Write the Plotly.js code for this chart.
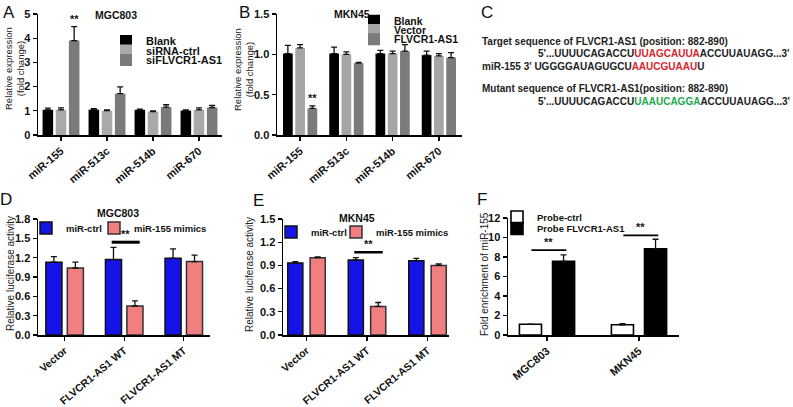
<!DOCTYPE html>
<html><head><meta charset="utf-8">
<script src="https://cdn.plot.ly/plotly-3.0.1.min.js"></script>
<style>html,body{margin:0;padding:0;background:#fff}#chart{width:793px;height:407px}</style>
</head><body><div id="chart"></div>
<script>
// ---------- Panel A (MGC803, qRT-PCR) ----------
const mirCats = ['miR-155', 'miR-513c', 'miR-514b', 'miR-670'];
const aBlank = [1.04, 1.05, 1.04, 1.01];
const aBlankErr = [0.07, 0.04, 0.03, 0.03];
const aSiCtrl = [1.04, 1.01, 0.97, 1.04];
const aSiCtrlErr = [0.08, 0.03, 0.03, 0.08];
const aSiFL = [3.90, 1.71, 1.15, 1.13];
const aSiFLErr = [0.58, 0.28, 0.10, 0.09];
const aNames = ['Blank', 'siRNA-ctrl', 'siFLVCR1-AS1'];

// ---------- Panel B (MKN45, qRT-PCR) ----------
const bBlank = [1.01, 1.01, 1.01, 0.99];
const bBlankErr = [0.10, 0.08, 0.04, 0.05];
const bVector = [1.08, 1.00, 1.01, 0.98];
const bVectorErr = [0.04, 0.03, 0.03, 0.03];
const bFL = [0.33, 0.89, 1.04, 0.96];
const bFLErr = [0.03, 0.01, 0.08, 0.06];
const bNames = ['Blank', 'Vector', 'FLVCR1-AS1'];

// ---------- Panels D / E (luciferase) ----------
const lucCats = ['Vector', 'FLVCR1-AS1 WT', 'FLVCR1-AS1 MT'];
const lucNames = ['miR-ctrl', 'miR-155 mimics'];
const dCtrl = [1.13, 1.17, 1.19];
const dCtrlErr = [0.085, 0.19, 0.145];
const dMimic = [1.04, 0.45, 1.14];
const dMimicErr = [0.09, 0.08, 0.10];
const eCtrl = [0.93, 0.97, 0.96];
const eCtrlErr = [0.02, 0.03, 0.03];
const eMimic = [1.00, 0.37, 0.90];
const eMimicErr = [0.01, 0.05, 0.02];

// ---------- Panel F (RNA pull-down) ----------
const fCats = ['MGC803', 'MKN45'];
const fNames = ['Probe-ctrl', 'Probe FLVCR1-AS1'];
const fCtrl = [1.10, 1.05];
const fCtrlErr = [0.02, 0.12];
const fProbe = [7.55, 8.85];
const fProbeErr = [0.67, 0.97];

// ---------- layout helpers ----------
const W = 793, H = 407;
const FF = 'Liberation Sans, Arial, Helvetica, sans-serif';
const px = v => v / W;
const py = v => 1 - v / H;

function bar(x, y, err, name, color, offset, width, axN, legId, lineColor, lineW) {
  return {
    type: 'bar', x: x, y: y, name: name,
    xaxis: 'x' + (axN === 1 ? '' : axN), yaxis: 'y' + (axN === 1 ? '' : axN),
    offset: offset, width: width,
    marker: {color: color, line: {color: lineColor || color, width: lineW || 0}},
    error_y: {type: 'data', symmetric: false, array: err, arrayminus: err.map(() => 0),
              color: '#111', thickness: 1.3, width: 3},
    legend: legId, showlegend: true, hoverinfo: 'skip'
  };
}

function xax(d0, d1, range, anchor, fs) {
  return {domain: [px(d0), px(d1)], range: range, anchor: anchor, type: 'category',
    showline: true, linecolor: '#000', linewidth: 1.5, ticks: 'outside', ticklen: 4,
    tickwidth: 1.3, tickcolor: '#000', tickangle: -40, showgrid: false, zeroline: false,
    tickfont: {family: FF, size: fs, weight: 'bold', color: '#111'}, fixedrange: true};
}
function yax(top, bottom, range, dtick, fmt, anchor) {
  return {domain: [py(bottom), py(top)], range: range, anchor: anchor, dtick: dtick,
    tick0: 0, tickformat: fmt, showline: true, linecolor: '#000', linewidth: 1.5,
    ticks: 'outside', ticklen: 4, tickwidth: 1.3, tickcolor: '#000', showgrid: false,
    zeroline: false, fixedrange: true,
    tickfont: {family: FF, size: 11, weight: 'bold', color: '#111'}};
}
function leg(xText, yc, fs) {
  return {x: px(xText - 40), y: py(yc), xanchor: 'left', yanchor: 'middle',
    bgcolor: 'rgba(0,0,0,0)', borderwidth: 0, itemclick: false, itemdoubleclick: false,
    font: {family: FF, size: fs, weight: 'bold', color: '#111'}};
}

// bar geometry (axis units)
const aW = 0.23, aOff = [-0.401, -0.115, 0.171];
const bW = 0.21, bOff = [-0.37, -0.105, 0.16];
const dW = 0.27, dOff = [-0.315, 0.045];
const eW = 0.25, eOff = [-0.31, 0.06];
const fW = 0.24, fOff = [-0.30, 0.06];

const data = [
  bar(mirCats, aBlank, aBlankErr, aNames[0], '#000000', aOff[0], aW, 1, 'legend'),
  bar(mirCats, aSiCtrl, aSiCtrlErr, aNames[1], '#a9a9a9', aOff[1], aW, 1, 'legend2'),
  bar(mirCats, aSiFL, aSiFLErr, aNames[2], '#7a7a7a', aOff[2], aW, 1, 'legend3'),
  bar(mirCats, bBlank, bBlankErr, bNames[0], '#000000', bOff[0], bW, 2, 'legend4'),
  bar(mirCats, bVector, bVectorErr, bNames[1], '#a6a6a6', bOff[1], bW, 2, 'legend5'),
  bar(mirCats, bFL, bFLErr, bNames[2], '#7b7b7b', bOff[2], bW, 2, 'legend6'),
  bar(lucCats, dCtrl, dCtrlErr, lucNames[0], '#1414e6', dOff[0], dW, 3, 'legend7', '#111', 1.5),
  bar(lucCats, dMimic, dMimicErr, lucNames[1], '#f27f7f', dOff[1], dW, 3, 'legend8', '#333', 1.5),
  bar(lucCats, eCtrl, eCtrlErr, lucNames[0], '#1414e6', eOff[0], eW, 4, 'legend9', '#111', 1.5),
  bar(lucCats, eMimic, eMimicErr, lucNames[1], '#f27f7f', eOff[1], eW, 4, 'legend10', '#333', 1.5),
  bar(fCats, fCtrl, fCtrlErr, fNames[0], '#ffffff', fOff[0], fW, 5, 'legend11', '#000', 1.6),
  bar(fCats, fProbe, fProbeErr, fNames[1], '#000000', fOff[1], fW, 5, 'legend12', '#000', 1.6)
];

// significance marks computed from the data
const annotations = [];
const shapes = [];
function stars(xref, yref, x, y, fs) {
  annotations.push({xref: xref, yref: yref, x: x, y: y, text: '**', showarrow: false,
    yanchor: 'bottom', font: {family: FF, size: fs || 11, weight: 'bold', color: '#111'}});
}
stars('x', 'y', 0 + aOff[2] + aW / 2, aSiFL[0] + aSiFLErr[0]);
stars('x2', 'y2', 0 + bOff[2] + bW / 2, bFL[0] + bFLErr[0]);
function bracket(xref, yref, i, lo, hi, y, lw) {
  shapes.push({type: 'line', xref: xref, yref: yref, x0: i + lo, x1: i + hi, y0: y, y1: y,
    line: {color: '#000', width: lw}});
  stars(xref, yref, i + (lo + hi) / 2, y, 11);
}
bracket('x3', 'y3', 1, -0.21, 0.26, dCtrl[1] + dCtrlErr[1] + 0.08, 3);
bracket('x4', 'y4', 1, -0.21, 0.26, eCtrl[1] + eCtrlErr[1] + 0.07, 2.5);
bracket('x5', 'y5', 0, -0.17, 0.21, fProbe[0] + fProbeErr[0] + 0.48, 1.6);
bracket('x5', 'y5', 1, -0.17, 0.21, fProbe[1] + fProbeErr[1] + 0.40, 1.6);

// panel titles
function ptitle(text, x, y, fs) {
  annotations.push({xref: 'paper', yref: 'paper', x: px(x), y: py(y), text: text,
    showarrow: false, xanchor: 'center', yanchor: 'middle',
    font: {family: FF, size: fs, weight: 'bold', color: '#111'}});
}
ptitle('MGC803', 116, 15, 10.5);
ptitle('MKN45', 352, 14, 10.5);
ptitle('MGC803', 118, 213, 10.5);
ptitle('MKN45', 357, 218, 10.5);

// y-axis titles
function ytitle(text, x, y, fs) {
  annotations.push({xref: 'paper', yref: 'paper', x: px(x), y: py(y), text: text,
    textangle: -90, showarrow: false, xanchor: 'center', yanchor: 'middle',
    font: {family: FF, size: fs, color: '#222'}});
}
ytitle('Relative expression<br>(fold change)', 14, 69, 9.5);
ytitle('Relative expression<br>(fold change)', 243, 69, 9.5);
ytitle('Relative luciferase activity', 10, 274, 10);
ytitle('Relative luciferase activity', 249, 274, 10);
ytitle('Fold enrichment of miR-155', 484, 274, 10);

// panel letters
[['A', 9, 13], ['B', 244, 13], ['C', 487, 12], ['D', 6, 199], ['E', 258, 200], ['F', 482, 199]]
  .forEach(([t, x, y]) => annotations.push({xref: 'paper', yref: 'paper', x: px(x), y: py(y),
    text: t, showarrow: false, xanchor: 'center', yanchor: 'middle',
    font: {family: FF, size: 17, color: '#111'}}));

// panel C sequence text
const RED = '#d8262b', GREEN = '#22a84e';
const cLines = [
  {x: 480, y: 42, t: 'Target sequence of FLVCR1-AS1 (position: 882-890)'},
  {x: 536, y: 53, t: "5'...UUUUCAGACCU<span style='color:" + RED + "'>UUAGCAUUA</span>ACCUUAUAGG...3'"},
  {x: 480, y: 66, t: "miR-155 3' UGGGGAUAGUGCU<span style='color:" + RED + "'>AAUCGUAAU</span>U"},
  {x: 480, y: 89, t: 'Mutant sequence of FLVCR1-AS1(position: 882-890)'},
  {x: 536, y: 101, t: "5'...UUUUCAGACCU<span style='color:" + GREEN + "'>UAAUCAGGA</span>ACCUUAUAGG...3'"}
];
cLines.forEach(l => annotations.push({xref: 'paper', yref: 'paper', x: px(l.x), y: py(l.y),
  text: l.t, showarrow: false, xanchor: 'left', yanchor: 'middle',
  font: {family: FF, size: 10, weight: 'bold', color: '#222'}}));

const layout = {
  width: W, height: H, margin: {l: 0, r: 0, t: 0, b: 0},
  paper_bgcolor: '#fff', plot_bgcolor: 'rgba(0,0,0,0)',
  barmode: 'overlay', showlegend: true,
  xaxis: xax(38, 222, [-0.5, 3.5], 'y', 11),
  yaxis: yax(14, 135, [0, 5], 1, 'd', 'x'),
  xaxis2: xax(277, 462, [-0.5, 3.5], 'y2', 11),
  yaxis2: yax(14, 135, [0, 1.5], 0.5, '.1f', 'x2'),
  xaxis3: xax(38, 210, [-0.447, 2.44], 'y3', 10.5),
  yaxis3: yax(219, 335, [0, 1.8], 0.3, '.1f', 'x3'),
  xaxis4: xax(283, 449, [-0.388, 2.355], 'y4', 10.5),
  yaxis4: yax(219, 335, [0, 1.5], 0.3, '.1f', 'x4'),
  xaxis5: xax(508, 679, [-0.424, 1.435], 'y5', 11),
  yaxis5: yax(218, 335, [0, 12], 2, 'd', 'x5'),
  legend: leg(146, 41, 11), legend2: leg(146, 50.5, 11), legend3: leg(146, 60, 11),
  legend4: leg(394, 20.7, 10.5), legend5: leg(394, 30, 10.5), legend6: leg(394, 39.3, 10.5),
  legend7: leg(66, 228, 9.5), legend8: leg(134, 228, 9.5),
  legend9: leg(311, 232, 9.5), legend10: leg(376, 232, 9.5),
  legend11: leg(537, 217, 9.5), legend12: leg(537, 228.5, 9.5),
  annotations: annotations, shapes: shapes
};

Plotly.newPlot('chart', data, layout, {staticPlot: true, displayModeBar: false});
</script>
</body></html>
